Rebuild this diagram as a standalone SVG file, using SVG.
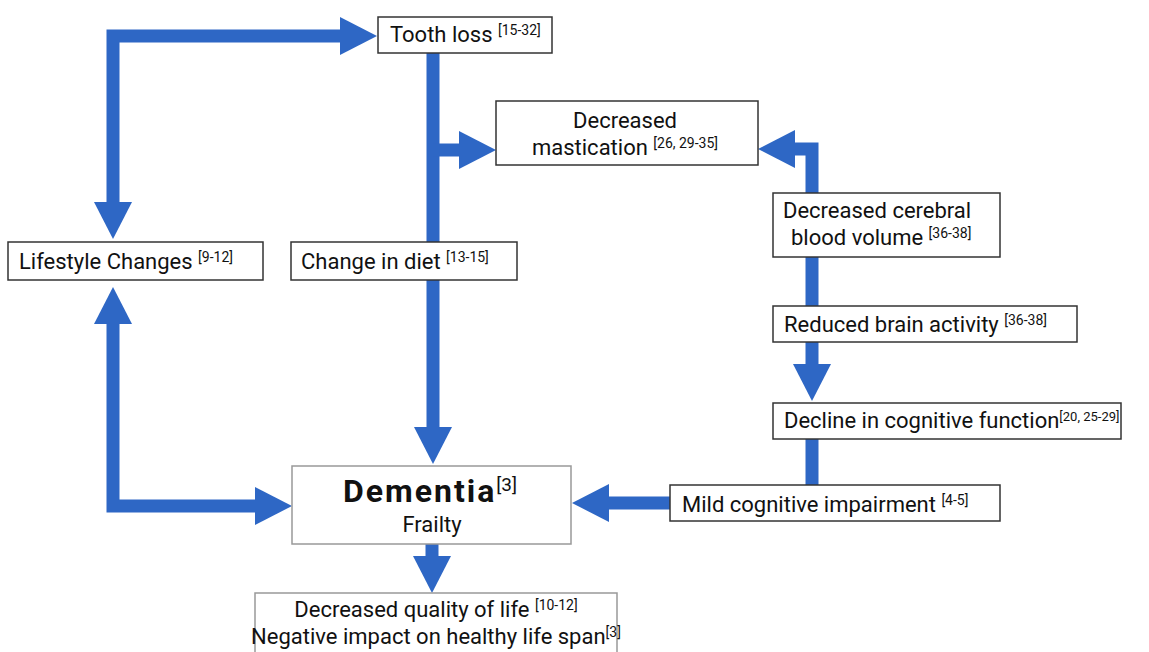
<svg xmlns="http://www.w3.org/2000/svg" width="1149" height="652" viewBox="0 0 1149 652">
<style>
.box{fill:#fff;stroke:#333;stroke-width:1.5}
.lbox{fill:#fff;stroke:#999;stroke-width:1.5}
.t{font-family:Roboto,"Liberation Sans",sans-serif;font-size:22px;fill:#111}
.s{font-size:14px}
.c{fill:none;stroke:#2e67c5;stroke-width:13;stroke-linejoin:miter}
</style>
<defs>
<marker id="ah" viewBox="0 -19 37 38" markerWidth="37" markerHeight="38" refX="0" refY="0" markerUnits="userSpaceOnUse" orient="auto-start-reverse">
<path d="M0,-19 L37,0 L0,19 z" fill="#2e67c5"/>
</marker>
</defs>
<rect width="1149" height="652" fill="#fff"/>
<g id="connectors">
<path class="c" d="M113,202 L113,36 L340,36" marker-start="url(#ah)" marker-end="url(#ah)"/>
<path class="c" d="M433,53 L433,426"/>
<path class="c" d="M433,426 L433,427" marker-end="url(#ah)"/>
<path class="c" d="M433,150 L459,150" marker-end="url(#ah)"/>
<path class="c" d="M113,324 L113,506 L255,506" marker-start="url(#ah)" marker-end="url(#ah)"/>
<path class="c" d="M812,193 L812,149 L795,149" marker-end="url(#ah)"/>
<path class="c" d="M812,257 L812,306"/>
<path class="c" d="M812,342 L812,364" marker-end="url(#ah)"/>
<path class="c" d="M812,439 L812,485"/>
<path class="c" d="M670,503 L609,503" marker-end="url(#ah)"/>
<path class="c" d="M432,544 L432,556" marker-end="url(#ah)"/>
</g>
<g id="tooth-loss">
<rect class="box" x="378" y="17" width="174" height="36"/>
<text class="t" x="390" y="42">Tooth loss <tspan class="s" dy="-7">[15-32]</tspan></text>
</g>
<g id="decreased-mastication">
<rect class="box" x="496" y="101" width="262" height="64"/>
<text class="t" x="625" y="128" text-anchor="middle">Decreased</text>
<text class="t" x="625" y="155" text-anchor="middle">mastication <tspan class="s" dy="-7">[26, 29-35]</tspan></text>
</g>
<g id="lifestyle-changes">
<rect class="box" x="8" y="242" width="255" height="38"/>
<text class="t" x="19" y="269">Lifestyle Changes <tspan class="s" dy="-7">[9-12]</tspan></text>
</g>
<g id="change-in-diet">
<rect class="box" x="291" y="242" width="226" height="38"/>
<text class="t" x="301" y="269">Change in diet <tspan class="s" dy="-7">[13-15]</tspan></text>
</g>
<g id="decreased-cerebral-blood-volume">
<rect class="box" x="773" y="193" width="227" height="64"/>
<text class="t" x="783" y="218">Decreased cerebral</text>
<text class="t" x="791" y="245">blood volume <tspan class="s" dy="-7">[36-38]</tspan></text>
</g>
<g id="reduced-brain-activity">
<rect class="box" x="773" y="306" width="304" height="36"/>
<text class="t" x="784" y="332">Reduced brain activity <tspan class="s" dy="-7">[36-38]</tspan></text>
</g>
<g id="decline-cognitive-function">
<rect class="box" x="773" y="403" width="348" height="36"/>
<text class="t" x="784" y="428">Decline in cognitive function<tspan class="s" style="font-size:13px" dy="-7">[20, 25-29]</tspan></text>
</g>
<g id="mild-cognitive-impairment">
<rect class="box" x="670" y="485" width="330" height="36"/>
<text class="t" x="682" y="512">Mild cognitive impairment <tspan class="s" dy="-7">[4-5]</tspan></text>
</g>
<g id="dementia">
<rect class="lbox" x="292" y="466" width="279" height="78"/>
<text class="t" x="430" y="502" text-anchor="middle" style="font-size:32px;font-weight:bold;letter-spacing:2px">Dementia<tspan style="font-size:19px;font-weight:normal;letter-spacing:0" dy="-11">[3]</tspan></text>
<text class="t" x="432" y="532" text-anchor="middle">Frailty</text>
</g>
<g id="quality-of-life">
<rect class="lbox" x="255" y="593" width="362" height="64"/>
<text class="t" x="436" y="617" text-anchor="middle">Decreased quality of life <tspan class="s" dy="-7">[10-12]</tspan></text>
<text class="t" x="436" y="644" text-anchor="middle">Negative impact on healthy life span<tspan class="s" dy="-7">[3]</tspan></text>
</g>
</svg>
